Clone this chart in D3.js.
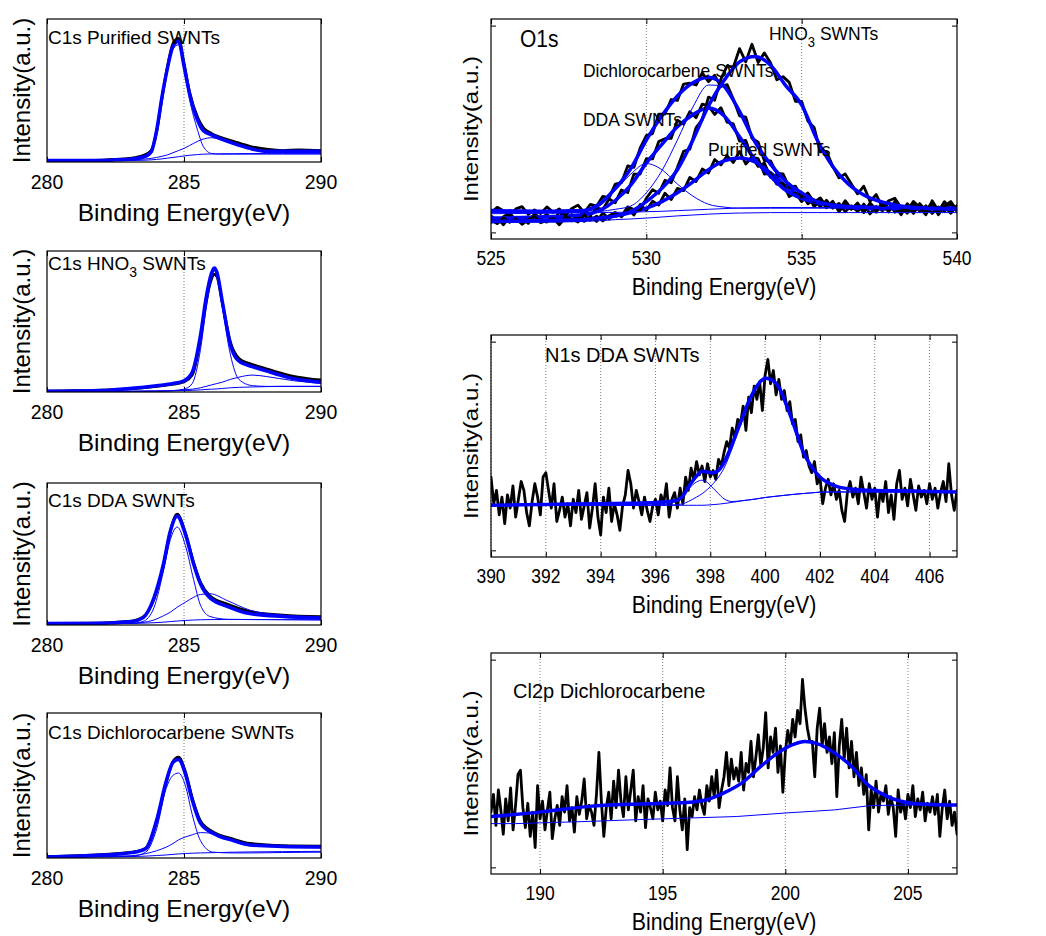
<!DOCTYPE html>
<html>
<head>
<meta charset="utf-8">
<script src="https://cdn.jsdelivr.net/npm/d3@7"></script>
<style>
  body { margin: 0; background: #fff; }
  svg { display: block; font-family: Arial, "Liberation Sans", sans-serif; }
</style>
</head>
<body>
<div id="chart"></div>
<script>
// all intensities are in % of the axis height (a.u.), energies in eV

// ---- C1s Purified ----
const c1sPurX = [280, 281, 282, 282.5, 283, 283.5, 283.8, 284.0, 284.2, 284.4, 284.6, 284.8, 285.0, 285.2, 285.5, 285.7, 286.0, 286.3, 286.8, 287.4, 288, 288.6, 289.2, 290];
const c1sPurData = [1.2, 0.8, 1.3, 1.8, 2.5, 4.5, 8, 21, 45, 67, 83, 86.5, 69, 49, 31, 24, 20, 17.5, 14.5, 11, 9, 8, 8.5, 8];
const c1sPurFit = [1, 1, 1, 1.5, 2, 3.5, 7, 22, 46, 66, 81, 84.5, 67, 48, 29, 22, 19, 16.5, 13, 9.5, 7.5, 7.5, 7.5, 7.5];
const c1sPurPeak1 = [1, 1, 1, 1, 1.2, 2.5, 5.5, 20, 44, 64, 79, 82, 65, 44, 22, 11, 6, 5.5, 5.5, 5.5, 5.5, 5.5, 5.5, 5.5];
const c1sPurPeak2 = [1, 1, 1, 1.2, 1.5, 2, 2.5, 3.2, 4, 5, 6.5, 8, 9.5, 11.5, 14.5, 16, 17, 16, 13, 9.5, 7.5, 7.5, 7.5, 7.5];
const c1sPurBg = [1, 1, 1, 1, 1, 1.2, 1.5, 1.8, 2.2, 2.7, 3.2, 3.7, 4.2, 4.7, 5.2, 5.5, 5.6, 5.7, 5.8, 5.9, 6, 6, 6, 6];

// ---- C1s HNO3 ----
const c1sHnoX = [280, 281, 282, 283, 284, 284.6, 285.0, 285.3, 285.6, 285.8, 286.0, 286.1, 286.2, 286.4, 286.7, 287.0, 287.5, 288, 288.5, 289, 289.5, 290];
const c1sHnoData = [0.6, 0.9, 1.3, 2.2, 4, 5.5, 7.3, 12, 37, 63, 80, 83.5, 82, 63, 35, 24, 19.5, 16.5, 13.5, 11, 9.5, 8.5];
const c1sHnoFit = [0.5, 0.7, 1, 2.5, 4.5, 6, 8, 14, 40, 66, 84, 88, 85, 64, 33, 22, 18, 15, 12, 9.5, 8, 7];
const c1sHnoPeak1 = [0.5, 0.5, 0.5, 0.5, 0.7, 1, 2, 6, 30, 58, 80, 86, 83, 60, 26, 9, 4.5, 4, 4, 4, 4, 4];
const c1sHnoPeak2 = [0.5, 0.5, 0.5, 0.5, 0.7, 1, 1.5, 2, 3, 4, 5, 5.5, 6, 7, 9, 10.5, 12, 11, 9.5, 8, 7, 6];
const c1sHnoBg = [0.5, 0.5, 0.5, 0.5, 0.5, 0.8, 1, 1.2, 1.5, 1.8, 2, 2.1, 2.2, 2.5, 3, 3.3, 3.6, 3.8, 4, 4, 4, 4];

// ---- C1s DDA ----
const c1sDdaX = [280, 281.5, 283.1, 283.5, 283.9, 284.25, 284.5, 284.75, 285.05, 285.35, 285.6, 285.95, 286.6, 287.4, 288.6, 290];
const c1sDdaData = [1.2, 1.3, 2.8, 5.5, 18, 42, 66, 78, 65, 44, 30, 20.5, 14.5, 9.5, 7, 5.8];
const c1sDdaFit = [1, 1.1, 2.5, 5, 19, 43, 66, 76.5, 64, 43, 29, 19, 13, 8, 6, 5];
const c1sDdaPeak1 = [1, 1, 1.2, 2.5, 12, 38, 60, 69, 56, 32, 14, 6, 4, 3.8, 3.7, 3.6];
const c1sDdaPeak2 = [1, 1, 1.3, 1.8, 3.5, 6.5, 9, 12.5, 16, 19.5, 21.5, 22, 17, 10.5, 7, 5.5];
const c1sDdaBg = [1, 1, 1.1, 1.3, 1.6, 2, 2.4, 2.8, 3.2, 3.5, 3.7, 3.8, 3.9, 3.9, 3.8, 3.6];

// ---- C1s Dichlorocarbene ----
const c1sDclX = [280, 282, 283.1, 283.6, 284.0, 284.35, 284.6, 284.8, 285.05, 285.3, 285.6, 286.06, 286.8, 287.4, 288.6, 290];
const c1sDclData = [0.9, 2.3, 4, 6.8, 25, 52, 66.5, 69.5, 59.5, 41.5, 25.5, 18, 13, 10, 8.5, 8.2];
const c1sDclFit = [0.7, 2, 3.7, 6.4, 26, 53, 66, 68, 58, 40, 24, 17, 12, 9, 8, 7.6];
const c1sDclPeak1 = [0.7, 0.8, 1.2, 4, 20, 48, 57, 58.6, 50, 30, 12, 4, 3.5, 3.5, 3.8, 4];
const c1sDclPeak2 = [0.7, 1, 1.6, 3, 5, 7.5, 10, 12.5, 14.5, 16, 17.5, 17, 12, 9, 8, 7];
const c1sDclBg = [0.7, 0.8, 1, 1.3, 1.7, 2.1, 2.5, 2.8, 3.1, 3.3, 3.5, 3.7, 4, 4.2, 4.4, 4.6];

// ---- O1s (measured every 0.2 eV from 525 to 540) ----
const o1sPurData = [7.5, 9.5, 6.5, 10, 8.1, 9.6, 7.1, 10.6, 8.7, 7.7,
  10.2, 6.7, 9.8, 8.3, 10.9, 8, 10.2, 8, 11.8, 9.1,
  12, 10.1, 13.7, 10.9, 15.7, 13, 17.2, 15.4, 20.8, 17.9,
  23, 22, 28, 26.1, 31.8, 30, 36.1, 33.7, 37.8, 34.8,
  39.8, 34.1, 37.4, 33, 34.5, 28, 29.1, 23.2, 25, 20,
  20.5, 16, 17.9, 14.6, 17.6, 14, 16.2, 12.4, 15.1, 12.5,
  15.9, 11.4, 14.8, 12.8, 16.7, 12.2, 14.7, 11.7, 15.6, 12.6,
  15.1, 11.6, 14.6, 12.6, 16.1, 12.6];
const o1sDdaData = [10.5, 8.1, 10.1, 11.7, 8.7, 9.8, 7.9, 11.4, 9.5, 11.1,
  8.2, 12.3, 9.4, 11.1, 9.3, 13, 10.8, 14.1, 13.4, 18.2,
  16.5, 22.3, 21.1, 29.5, 29.5, 36.5, 36.4, 44.3, 45.6, 45.8,
  54, 52.2, 57.9, 55.1, 61.3, 60.5, 56.6, 59.7, 53.1, 52.3,
  44.5, 44.8, 37.1, 36.5, 29.5, 30, 24.9, 25.3, 19.3, 20.9,
  17, 19.7, 14.8, 17.2, 14.2, 17.2, 12.5, 15.7, 13.5, 16.4,
  12.3, 15.7, 12.2, 16.6, 13.1, 15, 11, 16, 13, 15.5,
  12, 15, 12.5, 17, 13, 15];
const o1sDclData = [11.9, 14.4, 12.8, 10.8, 13.7, 14.7, 11.2, 13.2, 11.6, 14.6,
  12.1, 13.7, 10.8, 13.9, 15.4, 12, 15.7, 14.9, 19.4, 18.7,
  25, 25.6, 33.2, 32.6, 41.3, 47, 47.9, 56.8, 56.8, 63.4,
  63, 70.4, 70.8, 70, 75.5, 71.5, 74.4, 69.3, 70.2, 63.6,
  56, 55.4, 45.8, 44, 35.5, 35.5, 29.8, 29.6, 23.5, 24,
  19, 20.9, 16.8, 18.7, 14.6, 16.5, 13.2, 17.4, 13.7, 15.6,
  12, 16.4, 13.4, 15.8, 12.3, 17.2, 12.7, 15.1, 11.6, 16.1,
  13, 16.5, 11, 15, 17, 13];
const o1sHnoData = [8.5, 7.0, 9.6, 7.6, 9.2, 6.7, 8.8, 10.3, 7.4, 8.4,
  9.4, 6.5, 10.1, 9.1, 7.7, 10.8, 8.6, 10.4, 8.2, 10.6,
  12, 10.3, 14.6, 13.4, 13.2, 18.5, 22.4, 20.8, 26.7, 25.6,
  32.5, 39.9, 40.8, 50.6, 54.3, 64.5, 63.1, 72.7, 78.7, 78.1,
  86.5, 80.5, 88.5, 80.2, 84.6, 80, 72.4, 73.8, 71.2, 62.6,
  62.5, 53.6, 50.7, 39.6, 39.8, 33, 27.8, 29.6, 25, 20.5,
  24, 17.1, 20.2, 14.3, 17.4, 18.5, 14.2, 12.9, 17.1, 14.3,
  11, 17.4, 12.9, 14.8, 11.7, 15.1];

const o1sFitX = [525, 526, 527, 527.5, 528, 528.5, 529, 529.5, 530, 530.5, 531, 531.5, 532, 532.5, 533, 533.5, 534, 534.5, 535, 535.5, 536, 536.5, 537, 538, 539, 540];
const o1sPurFit = [8.5, 8.6, 8.7, 8.8, 9, 9.6, 10.5, 12, 14, 17, 21, 26, 31.5, 35.5, 36.8, 35, 30, 24, 19, 16.4, 15, 14.2, 13.9, 13.7, 13.6, 13.6];
const o1sDdaFit = [9.5, 9.8, 10.2, 10.5, 11, 13, 17.5, 24.5, 34.5, 43, 51, 56.5, 59.5, 56, 46.5, 36, 28.5, 22, 18.5, 16.4, 15.2, 14.6, 14.3, 14, 14, 14];
const o1sDclFit = [12.9, 12.7, 12.6, 12.8, 13, 16, 23, 32, 45, 56, 65, 71, 73.5, 69.5, 58, 44, 34, 26, 21, 17, 15.5, 14.8, 14.5, 14.2, 14, 14];
const o1sHnoFit = [8, 8.2, 8.4, 8.6, 8.8, 9.5, 10.5, 12.5, 17, 23, 31.5, 45, 60.5, 72, 80.5, 83, 79, 69.5, 61, 45, 33, 25, 20, 15.5, 14, 13.6];
const o1sDclPeakA = [12.3, 12.3, 12.3, 12.3, 12.4, 15, 22, 29.5, 34.3, 31.5, 25, 19.5, 15.8, 14.5, 14, 14, 14, 14, 14, 14, 14, 14, 14, 14, 14, 14];
const o1sDclPeakB = [12, 12, 12, 12, 12, 12.5, 13.5, 15, 21, 31, 45, 60, 70, 69.5, 58, 44, 33, 25.5, 20.5, 17, 15.5, 14.8, 14.5, 14.2, 14, 14];
const o1sBgHigh = [11.5, 11.6, 11.7, 11.8, 11.9, 12, 12.1, 12.2, 12.4, 12.6, 12.9, 13.2, 13.5, 13.8, 14.1, 14.2, 14.3, 14.3, 14.3, 14.3, 14.3, 14.3, 14.3, 14.3, 14.3, 14.3];
const o1sBgLow = [7.5, 7.6, 7.7, 7.8, 8, 8.3, 8.8, 9.1, 9.5, 10, 10.5, 10.9, 11.3, 11.6, 11.8, 11.9, 12, 12, 12, 12, 12, 12, 12, 12, 12, 12];

// ---- N1s DDA (measured every 0.1 eV from 390 to 407) ----
const n1sData = [36,
  24, 30, 19, 27, 15, 28, 22, 32, 18, 26,
  34, 30, 20, 14, 25, 33, 27, 19, 36, 38,
  30, 22, 33, 16, 21, 27, 18, 24, 14, 26,
  20, 30, 17, 23, 29, 13, 22, 33, 18, 10,
  27, 20, 31, 16, 24, 19, 12, 23, 28, 39,
  33, 22, 30, 25, 19, 27, 21, 16, 23, 26,
  19, 28, 24, 33, 18, 26, 29, 22, 31, 24,
  36, 30, 40, 35, 43, 37, 41, 34, 42, 36,
  39, 35, 44, 41, 47, 52, 49, 58, 54, 62,
  60, 68, 57, 72, 65, 77, 71, 79, 66, 82,
  89, 78, 84, 73, 80, 71, 75, 66, 70, 60,
  62, 52, 55, 45, 48, 41, 38, 43, 33, 36,
  24, 31, 35, 28, 33, 26, 30, 21, 16, 29,
  34, 27, 31, 24, 36, 29, 22, 33, 26, 31,
  18, 30, 25, 34, 20, 28, 17, 33, 39, 26,
  31, 23, 35, 28, 21, 32, 27, 30, 24, 33,
  26, 31, 22, 29, 34, 25, 42, 28, 21, 30];
const n1sFitX = [390, 392, 394, 395, 396, 396.5, 396.8, 397.0, 397.2, 397.5, 397.7, 397.9, 398.1, 398.3, 398.5, 398.8, 399.1, 399.4, 399.7, 400.0, 400.2, 400.5, 400.8, 401.1, 401.4, 401.7, 402.0, 402.5, 403, 404, 405, 406, 407];
const n1sFit = [23.3, 23.7, 24, 24.2, 24.5, 25, 25.6, 27.5, 31.5, 36.5, 38.6, 38.3, 37.9, 39, 42.5, 51, 60.5, 70, 77, 80.5, 80, 76.5, 67.7, 57.5, 47, 40.5, 36, 32.3, 30.8, 30, 29.8, 29.5, 29.3];
const n1sPeak1 = [23.3, 23.3, 23.3, 23.3, 23.4, 24, 25.5, 27.5, 30.5, 33.8, 34.6, 33.5, 31, 28.5, 26.2, 25, 25.3, 25.7, 26.2, 26.8, 27.1, 27.5, 27.9, 28.3, 28.6, 28.9, 29.2, 29.3, 29.3, 29.3, 29.3, 29.3, 29.3];
const n1sPeak2 = [23.3, 23.3, 23.3, 23.3, 23.3, 23.4, 23.6, 24, 25, 27, 28.5, 30.5, 33, 36, 40, 49, 59.5, 69.5, 76.8, 80.3, 79.8, 76.3, 67.5, 57.3, 46.8, 40.3, 35.8, 32.2, 30.7, 30, 29.8, 29.5, 29.3];
const n1sBg = [23.3, 23.3, 23.3, 23.3, 23.3, 23.3, 23.3, 23.3, 23.3, 23.3, 23.3, 23.4, 23.6, 23.8, 24.1, 24.6, 25.2, 25.7, 26.2, 26.8, 27.1, 27.5, 27.9, 28.3, 28.6, 28.9, 29.2, 29.3, 29.3, 29.3, 29.3, 29.3, 29.3];

// ---- Cl2p Dichlorocarbene (measured every 0.1 eV from 188 to 207) ----
const cl2pData = [28,
  36, 22, 38, 29, 18, 34, 24, 39, 20, 31,
  45, 47, 30, 21, 32, 17, 28, 12, 40, 25,
  33, 20, 29, 37, 16, 25, 31, 22, 35, 28,
  40, 24, 30, 19, 35, 27, 33, 43, 25, 31,
  28, 22, 36, 55, 33, 17, 30, 37, 25, 42,
  30, 47, 33, 26, 44, 29, 38, 47, 24, 35,
  28, 40, 21, 34, 30, 25, 37, 29, 33, 24,
  38, 31, 48, 30, 24, 44, 29, 20, 34, 11,
  30, 26, 35, 29, 38, 31, 27, 40, 33, 44,
  35, 47, 30, 38, 44, 55, 40, 52, 43, 48,
  42, 55, 38, 50, 46, 60, 44, 53, 63, 49,
  57, 73, 48, 62, 55, 66, 46, 58, 37, 55,
  65, 58, 70, 62, 74, 68, 88, 75, 66, 60,
  60, 44, 66, 75, 58, 68, 55, 62, 50, 64,
  35, 58, 70, 52, 66, 48, 60, 44, 55, 40,
  48, 36, 45, 20, 38, 30, 42, 28, 36, 33,
  40, 27, 35, 30, 17, 38, 28, 33, 25, 36,
  30, 40, 26, 34, 29, 37, 24, 32, 28, 35,
  27, 36, 17, 30, 38, 25, 33, 22, 28, 18];
const cl2pFitX = [188, 190, 192, 194, 196, 196.8, 197.5, 198.2, 199, 199.7, 200.3, 200.8, 201.3, 202, 202.7, 203.3, 204, 204.7, 205.5, 207];
const cl2pFit = [26, 28, 30.6, 31.7, 32.4, 33.6, 36.7, 41, 48.7, 54.8, 58.5, 60, 59, 54.8, 48.7, 41, 35.9, 32.9, 31.7, 31.2];
const cl2pBgX = [188, 189, 190.5, 192, 194, 196, 198, 200, 202, 203.5, 205, 207];
const cl2pBg = [22.8, 22.8, 23.3, 23.8, 24.6, 25.3, 26, 27.6, 29, 31, 31.2, 31.2];

// ---- axis ticks ----
const c1sTicks = [280, 285, 290];
const o1sTicks = [525, 530, 535, 540];
const n1sTicks = [390, 392, 394, 396, 398, 400, 402, 404, 406];
const cl2pTicks = [190, 195, 200, 205];

// evenly spaced energy channels for the noisy spectra
const channels = (start, step, n) => d3.range(n).map(i => +(start + i * step).toFixed(2));
const o1sX = channels(525, 0.2, o1sHnoData.length);
const n1sX = channels(390, 0.1, n1sData.length);
const cl2pX = channels(188, 0.1, cl2pData.length);

const width = 1046;
const height = 936;
const blue = "#0000ff";

const svg = d3.select("#chart")
  .append("svg")
  .attr("width", width)
  .attr("height", height);

const styles = {
  data: { color: "#000", w: 2.8 },
  fit: { color: blue, w: 3.5 },
  comp: { color: blue, w: 1 }
};

// text sizes differ a little between the two columns (source image was squeezed)
const sides = {
  left: { tick: 19.5, tickSy: 1.05, tickOff: 26.5, xlab: 24.5, xlabSy: 1, xlabOff: 58.5, ylab: 24, ylabSy: 1, ylabX: 30, yTicks: [] },
  right: { tick: 17.5, tickSy: 1.15, tickOff: 25.5, xlab: 21.3, xlabSy: 1.15, xlabOff: 56, ylab: 21, ylabSy: 1.15, ylabX: 478, yTicks: [3, 97] }
};

function addText(parent, x, y, parts, size, sy, anchor, rotate) {
  const t = parent.append("text")
    .attr("transform", `translate(${x},${y}) scale(1,${sy})${rotate ? " rotate(-90)" : ""}`)
    .attr("text-anchor", anchor || "start")
    .attr("font-size", size)
    .attr("fill", "#000");
  if (typeof parts === "string") {
    t.text(parts);
  } else {
    parts.forEach(p => {
      t.append("tspan")
        .attr("font-size", p.size || size)
        .attr("dy", p.dy || 0)
        .text(p.t);
    });
  }
  return t;
}

function drawPanel(p, idx) {
  const s = sides[p.side];
  const x = d3.scaleLinear().domain(p.xDomain).range([p.left, p.right]);
  const y = d3.scaleLinear().domain([0, 100]).range([p.bottom, p.top]);
  const g = svg.append("g");

  const clipId = "clip" + idx;
  svg.append("clipPath")
    .attr("id", clipId)
    .append("rect")
    .attr("x", p.left)
    .attr("y", p.top)
    .attr("width", p.right - p.left)
    .attr("height", p.bottom - p.top);

  // dotted x grid
  g.append("g")
    .selectAll("line")
    .data(p.grid)
    .join("line")
    .attr("x1", d => x(d))
    .attr("x2", d => x(d))
    .attr("y1", p.top)
    .attr("y2", p.bottom)
    .attr("stroke", "#808080")
    .attr("stroke-width", 1)
    .attr("stroke-dasharray", "1,2");

  // inward tick marks, bottom + top + y sides
  g.append("g")
    .attr("transform", `translate(0,${p.bottom})`)
    .call(d3.axisBottom(x).tickValues(p.ticks).tickSize(-5).tickFormat(""))
    .call(a => a.select(".domain").remove());
  g.append("g")
    .attr("transform", `translate(0,${p.top})`)
    .call(d3.axisTop(x).tickValues(p.ticks).tickSize(-5).tickFormat(""))
    .call(a => a.select(".domain").remove());
  g.append("g")
    .attr("transform", `translate(${p.left},0)`)
    .call(d3.axisLeft(y).tickValues(s.yTicks).tickSize(-5).tickFormat(""))
    .call(a => a.select(".domain").remove());
  g.append("g")
    .attr("transform", `translate(${p.right},0)`)
    .call(d3.axisRight(y).tickValues(s.yTicks).tickSize(-5).tickFormat(""))
    .call(a => a.select(".domain").remove());

  // spectra
  const plot = g.append("g").attr("clip-path", `url(#${clipId})`);
  p.series.forEach(ser => {
    const st = styles[ser.kind];
    const line = d3.line()
      .x(d => x(d[0]))
      .y(d => y(d[1]))
      .curve(ser.smooth ? d3.curveMonotoneX : d3.curveLinear);
    plot.append("path")
      .datum(d3.zip(ser.x, ser.y))
      .attr("d", line)
      .attr("fill", "none")
      .attr("stroke", st.color)
      .attr("stroke-width", st.w)
      .attr("stroke-linejoin", "round")
      .attr("stroke-linecap", "round");
  });

  // frame
  g.append("rect")
    .attr("x", p.left)
    .attr("y", p.top)
    .attr("width", p.right - p.left)
    .attr("height", p.bottom - p.top)
    .attr("fill", "none")
    .attr("stroke", "#000")
    .attr("stroke-width", 1.2);

  // tick labels
  p.ticks.forEach(t => {
    addText(g, x(t), p.bottom + s.tickOff, String(t), s.tick, s.tickSy, "middle");
  });

  // axis titles
  addText(g, (p.left + p.right) / 2, p.bottom + s.xlabOff, "Binding Energy(eV)", s.xlab, s.xlabSy, "middle");
  addText(g, s.ylabX, (p.top + p.bottom) / 2, "Intensity(a.u.)", s.ylab, s.ylabSy, "middle", true);

  // in-plot annotations
  p.notes.forEach(n => addText(g, n.x, n.y, n.parts, n.size, n.sy || 1, "start"));
}

const sub3 = (pre, size, post, subSize, shift) => [
  { t: pre },
  { t: "3", size: subSize, dy: shift },
  { t: post, dy: -shift }
];

const c1sSeries = (xs, data, fit, p1, p2, bg) => [
  { kind: "data", x: xs, y: data, smooth: true },
  { kind: "fit", x: xs, y: fit, smooth: true },
  { kind: "comp", x: xs, y: p1, smooth: true },
  { kind: "comp", x: xs, y: p2, smooth: true },
  { kind: "comp", x: xs, y: bg, smooth: true }
];

const panels = [
  {
    side: "left", left: 47, right: 321, top: 19, bottom: 162,
    xDomain: [280, 290], ticks: c1sTicks, grid: [285],
    series: c1sSeries(c1sPurX, c1sPurData, c1sPurFit, c1sPurPeak1, c1sPurPeak2, c1sPurBg),
    notes: [{ x: 48, y: 44, parts: "C1s Purified SWNTs", size: 19 }]
  },
  {
    side: "left", left: 47, right: 321, top: 251, bottom: 392,
    xDomain: [280, 290], ticks: c1sTicks, grid: [285],
    series: c1sSeries(c1sHnoX, c1sHnoData, c1sHnoFit, c1sHnoPeak1, c1sHnoPeak2, c1sHnoBg),
    notes: [{ x: 48, y: 270, parts: sub3("C1s HNO", 19, " SWNTs", 14, 7), size: 19 }]
  },
  {
    side: "left", left: 47, right: 321, top: 483, bottom: 625,
    xDomain: [280, 290], ticks: c1sTicks, grid: [285],
    series: c1sSeries(c1sDdaX, c1sDdaData, c1sDdaFit, c1sDdaPeak1, c1sDdaPeak2, c1sDdaBg),
    notes: [{ x: 48, y: 507, parts: "C1s DDA SWNTs", size: 19 }]
  },
  {
    side: "left", left: 47, right: 321, top: 713, bottom: 858,
    xDomain: [280, 290], ticks: c1sTicks, grid: [285],
    series: c1sSeries(c1sDclX, c1sDclData, c1sDclFit, c1sDclPeak1, c1sDclPeak2, c1sDclBg),
    notes: [{ x: 48, y: 739, parts: "C1s Dichlorocarbene SWNTs", size: 19 }]
  },
  {
    side: "right", left: 491, right: 957, top: 19, bottom: 239,
    xDomain: [525, 540], ticks: o1sTicks, grid: [530, 535],
    series: [
      { kind: "data", x: o1sX, y: o1sPurData },
      { kind: "fit", x: o1sFitX, y: o1sPurFit, smooth: true },
      { kind: "data", x: o1sX, y: o1sDdaData },
      { kind: "fit", x: o1sFitX, y: o1sDdaFit, smooth: true },
      { kind: "data", x: o1sX, y: o1sDclData },
      { kind: "fit", x: o1sFitX, y: o1sDclFit, smooth: true },
      { kind: "data", x: o1sX, y: o1sHnoData },
      { kind: "fit", x: o1sFitX, y: o1sHnoFit, smooth: true },
      { kind: "comp", x: o1sFitX, y: o1sDclPeakA, smooth: true },
      { kind: "comp", x: o1sFitX, y: o1sDclPeakB, smooth: true },
      { kind: "comp", x: o1sFitX, y: o1sBgHigh, smooth: true },
      { kind: "comp", x: o1sFitX, y: o1sBgLow, smooth: true }
    ],
    notes: [
      { x: 520, y: 46.5, parts: "O1s", size: 21, sy: 1.1 },
      { x: 769, y: 40, parts: sub3("HNO", 17.5, " SWNTs", 13, 6), size: 17.5, sy: 1.1 },
      { x: 583, y: 76.5, parts: "Dichlorocarbene SWNTs", size: 17.5, sy: 1.1 },
      { x: 583, y: 126, parts: "DDA SWNTs", size: 17.5, sy: 1.1 },
      { x: 708, y: 156, parts: "Purified SWNTs", size: 17.5, sy: 1.1 }
    ]
  },
  {
    side: "right", left: 491, right: 957, top: 335, bottom: 557,
    xDomain: [390, 407], ticks: n1sTicks, grid: n1sTicks,
    series: [
      { kind: "data", x: n1sX, y: n1sData },
      { kind: "fit", x: n1sFitX, y: n1sFit, smooth: true },
      { kind: "comp", x: n1sFitX, y: n1sPeak1, smooth: true },
      { kind: "comp", x: n1sFitX, y: n1sPeak2, smooth: true },
      { kind: "comp", x: n1sFitX, y: n1sBg, smooth: true }
    ],
    notes: [{ x: 545, y: 361.5, parts: "N1s DDA SWNTs", size: 20, sy: 1.05 }]
  },
  {
    side: "right", left: 491, right: 957, top: 653, bottom: 874,
    xDomain: [188, 207], ticks: cl2pTicks, grid: cl2pTicks,
    series: [
      { kind: "data", x: cl2pX, y: cl2pData },
      { kind: "fit", x: cl2pFitX, y: cl2pFit, smooth: true },
      { kind: "comp", x: cl2pBgX, y: cl2pBg }
    ],
    notes: [{ x: 513, y: 698, parts: "Cl2p Dichlorocarbene", size: 20, sy: 1.05 }]
  }
];

panels.forEach(drawPanel);
</script>
</body>
</html>
